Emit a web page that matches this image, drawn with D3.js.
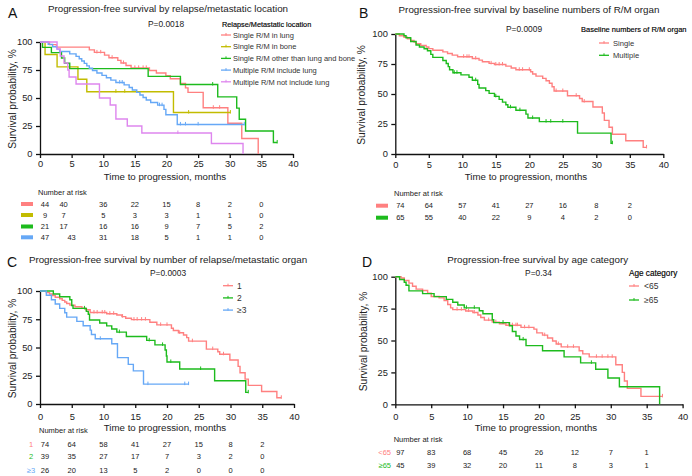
<!DOCTYPE html>
<html>
<head>
<meta charset="utf-8">
<script src="https://cdn.jsdelivr.net/npm/d3@7"></script>
<style>
  html, body { margin: 0; padding: 0; background: #fff; }
  svg { display: block; font-family: "Liberation Sans", Arial, Helvetica, sans-serif; }
</style>
</head>
<body>
<svg id="chart" width="692" height="476"></svg>
<script>
// shared axis ticks
const xTicks = [0, 5, 10, 15, 20, 25, 30, 35, 40];
const yTicks = [0, 25, 50, 75, 100];
const riskTimes = [0, 5, 10, 15, 20, 25, 30, 35];

// ---- panel A: relapse/metastatic location ----
const lungSteps = [[0,100],[1.5,97.7],[2.6,95.4],[7.8,93.0],[8.6,90.7],[10.2,88.3],[10.9,86.0],[12.3,83.6],[12.8,81.3],[13.6,79.0],[14.4,76.9],[17.3,74.6],[18.4,72.3],[19.9,70.0],[20.6,67.2],[22.2,63.0],[23.0,59.0],[23.4,55.0],[25.8,41.3],[29.7,27.5],[31.9,13.8],[34.5,0]];
const lungCensor = [9.0, 9.6, 11.4, 13.2, 15.0, 15.6, 16.3, 16.8, 27.4, 28.4];
const boneSteps = [[0,100],[0.8,88.9],[2.7,77.8],[6.0,66.7],[7.4,55.6],[21.1,37.0]];
const boneCensor = [12.0, 13.4, 23.5, 30.1];
const otherSteps = [[0,100],[0.4,95.2],[1.8,90.5],[3.4,85.7],[3.9,81.0],[4.7,76.2],[17.1,69.3],[22.2,62.0],[28.1,51.0],[31.1,41.0],[31.5,31.0],[32.5,20.5],[36.9,10.3]];
const otherCensor = [27.3, 37.5];
const inclLungSteps = [[0,100],[1.3,97.9],[2.0,95.7],[2.7,93.6],[3.1,91.5],[4.7,89.4],[5.7,87.2],[6.2,85.1],[6.6,83.0],[7.0,80.9],[7.4,78.7],[7.8,76.6],[8.3,74.5],[9.0,72.3],[9.8,70.2],[10.5,68.1],[11.2,66.0],[12.0,63.8],[13.3,61.7],[14.1,59.4],[14.6,57.2],[15.3,55.0],[15.8,52.7],[16.3,50.5],[16.8,48.2],[17.5,46.0],[18.6,43.6],[19.6,39.8],[19.9,35.0],[21.7,26.4]];
const inclLungCensor = [12.6, 13.0, 18.9, 19.3, 22.2, 23.0, 25.0, 32.3];
const notInclSteps = [[0,100],[2.7,93.75],[3.2,87.5],[3.8,81.25],[4.4,75],[4.6,68.75],[5.7,62.5],[9.4,50],[11.1,43.75],[12.0,31.25],[13.8,25],[16.1,18.75],[27.1,9.4],[32.1,0]];
const notInclCensor = [21.8];
const riskLung = [44, 40, 36, 22, 15, 8, 2, 0];
const riskBone = [9, 7, 5, 3, 3, 1, 1, 0];
const riskOther = [21, 17, 16, 16, 9, 7, 5, 2];
const riskInclLung = [47, 43, 31, 18, 5, 1, 1, 0];

// ---- panel B: baseline number of R/M organs ----
const singleSteps = [[0,100],[0.6,98.6],[1.3,97.3],[1.8,95.9],[2.3,94.6],[2.8,93.2],[3.1,91.9],[3.8,90.5],[4.6,89.2],[5.0,87.8],[5.6,86.5],[7.1,85.1],[7.8,83.8],[8.5,82.4],[9.3,81.0],[11.5,79.6],[12.5,78.2],[13.0,76.9],[14.0,75.5],[14.8,74.6],[16.5,73.2],[17.3,71.7],[18.0,70.2],[20.2,68.5],[20.5,66.7],[21.0,64.9],[22.0,63.0],[22.5,61.0],[23.0,59.0],[23.4,56.0],[23.7,52.5],[25.7,48.6],[27.5,46.2],[27.9,43.7],[29.5,39.2],[30.9,34.2],[31.2,28.0],[31.9,22.3],[32.4,16.5],[34.4,11.0],[37.0,5.5]];
const singleCensor = [10.2, 10.7, 11.0, 12.0, 14.3, 15.0, 15.5, 16.0, 18.5, 19.0, 20.0, 24.0, 25.0, 27.0, 28.2, 37.5];
const multipleSteps = [[0,100],[1.3,98.5],[1.6,96.9],[2.3,93.8],[3.1,90.8],[3.6,89.2],[4.3,87.7],[4.8,86.1],[5.3,83.0],[5.6,80.5],[7.1,77.9],[7.6,75.4],[7.9,72.8],[8.1,70.2],[8.6,67.7],[9.8,65.9],[11.0,64.0],[11.5,61.5],[12.3,58.0],[12.5,55.0],[13.5,52.8],[14.0,50.5],[14.8,48.0],[15.5,45.5],[16.0,43.2],[16.5,41.0],[16.8,38.9],[18.0,36.5],[19.5,33.2],[19.8,30.0],[21.5,27.0],[27.2,17.4],[32.2,9.0]];
const multipleCensor = [8.8, 9.2, 12.0, 15.0, 17.2, 18.6, 20.5, 22.5, 23.2, 25.0, 32.4];
const riskSingle = [74, 64, 57, 41, 27, 16, 8, 2];
const riskMultiple = [65, 55, 40, 22, 9, 4, 2, 0];

// ---- panel C: number of relapse/metastatic organs ----
const c1Steps = [[0,100],[1.0,98.6],[1.5,97.3],[2.0,95.9],[2.4,94.5],[3.1,93.1],[3.5,91.7],[3.9,90.3],[4.2,88.9],[4.7,87.5],[5.5,86.1],[6.6,84.8],[7.2,83.4],[7.9,81.0],[10.5,79.9],[12.1,78.7],[12.9,77.3],[13.5,75.9],[14.4,74.7],[17.3,72.4],[18.4,70.0],[20.7,67.0],[21.0,65.0],[21.8,63.0],[22.6,61.0],[23.1,58.7],[23.4,55.6],[26.2,48.6],[28.0,46.2],[28.3,44.0],[29.9,39.0],[31.2,33.3],[31.5,27.7],[32.3,22.0],[32.8,16.5],[34.9,11.0],[37.3,5.5]];
const c1Censor = [8.5, 9.0, 9.8, 10.2, 11.0, 11.6, 13.0, 14.8, 15.3, 16.0, 16.6, 19.0, 20.0, 22.0, 24.0, 27.2, 28.9, 38.0];
const c2Steps = [[0,100],[2.1,97.4],[3.1,94.9],[4.7,92.3],[5.0,87.2],[5.2,84.6],[7.3,82.0],[7.6,79.4],[7.8,74.3],[9.4,71.7],[10.5,69.1],[11.3,66.4],[12.1,63.6],[13.6,59.8],[16.8,56.3],[18.1,52.3],[19.7,47.8],[19.9,42.5],[20.0,37.2],[22.0,31.0],[27.5,20.6],[32.4,10.3]];
const c2Censor = [7.0, 12.5, 17.2, 19.3, 20.6, 25.3, 32.8];
const c3Steps = [[0,100],[1.0,96.2],[1.8,92.3],[2.4,88.5],[3.1,84.6],[3.9,80.8],[4.2,76.9],[5.8,73.1],[6.8,69.2],[7.9,65.4],[8.1,61.5],[8.7,57.7],[11.3,53.3],[12.2,41.0],[13.9,35.1],[14.7,29.3],[16.3,17.6]];
const c3Censor = [9.5, 17.0, 22.8, 23.4];
const riskC1 = [74, 64, 58, 41, 27, 15, 8, 2];
const riskC2 = [39, 35, 27, 17, 7, 3, 2, 0];
const riskC3 = [26, 20, 13, 5, 2, 0, 0, 0];

// ---- panel D: age category ----
const youngSteps = [[0,100],[0.8,99.0],[1.25,97.0],[1.9,95.0],[2.4,92.5],[2.9,90.3],[3.8,89.2],[4.5,87.1],[5.0,84.5],[6.1,83.4],[6.8,81.3],[7.3,78.2],[7.7,75.6],[8.0,74.2],[9.8,73.1],[10.8,72.0],[11.5,70.0],[11.9,68.0],[12.4,66.0],[13.5,64.4],[14.5,63.1],[15.4,62.0],[17.5,60.3],[19.3,58.9],[19.7,56.0],[20.5,54.2],[21.2,52.0],[21.9,49.6],[22.4,47.2],[23.1,45.0],[25.6,42.0],[26.1,39.5],[27.0,37.2],[30.7,31.0],[31.6,25.0],[31.9,18.3],[32.3,12.5],[34.2,6.2]];
const youngCensor = [8.6, 9.2, 10.2, 11.0, 13.0, 14.0, 15.8, 16.3, 16.8, 17.0, 18.0, 18.6, 20.8, 22.7, 24.0, 24.8, 28.0, 28.8, 29.6, 30.2, 37.2];
const oldSteps = [[0,100],[0.6,97.8],[1.25,95.6],[1.5,93.3],[1.9,88.9],[3.8,86.7],[5.4,84.4],[7.1,82.2],[8.0,80.0],[8.7,77.8],[9.6,75.6],[11.7,73.3],[12.2,71.0],[13.5,66.3],[13.7,64.0],[15.9,61.6],[16.3,57.0],[16.8,53.5],[17.3,50.8],[18.2,46.0],[20.5,42.0],[23.5,37.2],[25.8,32.5],[27.9,27.5],[29.6,20.6],[31.2,13.7],[36.8,0]];
const oldCensor = [9.9, 11.0, 15.0, 17.8, 27.3];
const riskYoung = [97, 83, 68, 45, 26, 12, 7, 1];
const riskOld = [45, 39, 32, 20, 11, 8, 3, 1];

const COLORS = {
  red: "#ff8080",
  yellow: "#c2bc00",
  green: "#1dbb1d",
  blue: "#66a8f6",
  violet: "#de86ee",
};

const svg = d3.select("#chart");
const FONT_TICK = 9.3;

function survivalAt(steps, t) {
  let s = steps[0][1];
  for (const [st, sv] of steps) {
    if (st <= t) s = sv;
  }
  return s;
}

function drawPanel(p) {
  const g = svg.append("g");
  const x = d3.scaleLinear().domain([0, 40]).range([p.x0, p.x1]);
  const y = d3.scaleLinear().domain([0, 100]).range([p.yBottom, p.yTop]);

  g.append("text")
    .attr("x", p.letter[0]).attr("y", p.letter[1]).attr("dy", "0.36em")
    .style("font-size", "14px").attr("fill", "#111")
    .text(p.letterText);

  g.append("text")
    .attr("x", p.title[0]).attr("y", p.title[1]).attr("dy", "0.36em")
    .attr("text-anchor", "middle").style("font-size", "9.8px").attr("fill", "#222")
    .text(p.titleText);

  g.append("text")
    .attr("x", p.pval[0]).attr("y", p.pval[1]).attr("dy", "0.36em")
    .attr("text-anchor", "middle").style("font-size", "8.4px").attr("fill", "#222")
    .text(p.pvalText);

  // axes
  const xAxis = g.append("g")
    .attr("transform", `translate(0,${p.yBottom})`)
    .call(d3.axisBottom(x).tickValues(xTicks).tickSize(4).tickSizeOuter(0).tickPadding(p.xPad));
  const yAxis = g.append("g")
    .attr("transform", `translate(${p.x0},0)`)
    .call(d3.axisLeft(y).tickValues(yTicks).tickSize(4).tickSizeOuter(0).tickPadding(3.5));
  [xAxis, yAxis].forEach((a) => {
    a.selectAll(".domain, .tick line").attr("stroke", "#111").attr("stroke-width", 1.3);
    a.selectAll("text").style("font-size", FONT_TICK + "px").attr("fill", "#222")
      .style("font-family", "inherit");
  });

  g.append("text")
    .attr("transform", `translate(${p.ylabX},${(p.yTop + p.yBottom) / 2 + 1}) rotate(-90)`)
    .attr("dy", "0.36em").attr("text-anchor", "middle")
    .style("font-size", "10.2px").attr("fill", "#222")
    .text("Survival probability, %");

  g.append("text")
    .attr("x", p.xlab[0]).attr("y", p.xlab[1]).attr("dy", "0.36em")
    .attr("text-anchor", "middle").style("font-size", "9.7px").attr("fill", "#222")
    .text("Time to progression, months");

  // curves
  const line = d3.line().x((d) => x(d[0])).y((d) => y(d[1])).curve(d3.curveStepAfter);
  p.series.forEach((s) => {
    const last = s.steps[s.steps.length - 1];
    const pts = s.end > last[0] ? s.steps.concat([[s.end, last[1]]]) : s.steps;
    g.append("path")
      .attr("d", line(pts))
      .attr("fill", "none")
      .attr("stroke", s.color)
      .attr("stroke-width", 1.4);
    g.selectAll(null)
      .data(s.censor)
      .join("line")
      .attr("x1", (t) => x(t)).attr("x2", (t) => x(t))
      .attr("y1", (t) => y(survivalAt(s.steps, t)) - 2.5)
      .attr("y2", (t) => y(survivalAt(s.steps, t)) + 1)
      .attr("stroke", s.color)
      .attr("stroke-width", 1);
  });

  // legend
  const L = p.legend;
  if (L.title) {
    g.append("text")
      .attr("x", L.titleX).attr("y", L.titleY).attr("dy", "0.36em")
      .style("font-size", L.titleSize + "px").attr("fill", "#000")
      .attr("stroke", "#000").attr("stroke-width", 0.15)
      .text(L.title);
  }
  p.series.forEach((s, i) => {
    const ly = L.y0 + i * L.dy;
    g.append("line")
      .attr("x1", L.lx).attr("x2", L.lx + 10).attr("y1", ly).attr("y2", ly)
      .attr("stroke", s.color).attr("stroke-width", 1.3);
    g.append("line")
      .attr("x1", L.lx + 5).attr("x2", L.lx + 5).attr("y1", ly - 2).attr("y2", ly + 0.5)
      .attr("stroke", s.color).attr("stroke-width", 1);
    g.append("text")
      .attr("x", L.tx).attr("y", ly).attr("dy", "0.36em")
      .style("font-size", L.size + "px").attr("fill", "#333")
      .text(s.name);
  });

  // number at risk table
  const R = p.risk;
  g.append("text")
    .attr("x", R.labelX).attr("y", R.labelY).attr("dy", "0.36em")
    .style("font-size", "7.5px").attr("fill", "#222")
    .text("Number at risk");
  p.series.forEach((s, i) => {
    if (!s.risk) return;
    const ry = R.rows[i];
    if (R.swatchX != null) {
      g.append("rect")
        .attr("x", R.swatchX).attr("y", ry - 2).attr("width", 12).attr("height", 4)
        .attr("fill", s.color);
    } else {
      g.append("text")
        .attr("x", R.rowLabelX).attr("y", ry).attr("dy", "0.36em")
        .attr("text-anchor", R.rowLabelAnchor)
        .style("font-size", "7.5px").attr("fill", s.color)
        .text(s.rowLabel);
    }
    g.selectAll(null)
      .data(s.risk.map((v, j) => ({ v, t: riskTimes[j], j })))
      .join("text")
      .attr("x", (d) => x(d.t) + (d.j === 0 ? 5 : 0) + (R.shift ? R.shift(i, d.j) : 0))
      .attr("y", ry).attr("dy", "0.36em")
      .attr("text-anchor", "middle")
      .style("font-size", "7.5px").attr("fill", "#222")
      .text((d) => d.v);
  });
}

drawPanel({
  letterText: "A", letter: [8, 13],
  titleText: "Progression-free survival by relapse/metastatic location", title: [168, 8],
  pvalText: "P=0.0018", pval: [166, 24],
  x0: 40, x1: 293, yTop: 42, yBottom: 154, xPad: 2.7,
  ylabX: 12, xlab: [165, 177],
  legend: { title: "Relapse/Metastatic location", titleX: 222, titleY: 24, titleSize: 7.3,
            y0: 35, dy: 11.7, lx: 221, tx: 233, size: 7.5 },
  risk: { labelX: 38, labelY: 192, rows: [204, 215, 226.5, 237.3], swatchX: 21,
          shift: (i, j) => (j === 1 && i < 3 ? -8 : 0) },
  series: [
    { name: "Single R/M in lung", color: COLORS.red, steps: lungSteps, censor: lungCensor, end: 34.5, risk: riskLung },
    { name: "Single R/M in bone", color: COLORS.yellow, steps: boneSteps, censor: boneCensor, end: 30.1, risk: riskBone },
    { name: "Single R/M other than lung and bone", color: COLORS.green, steps: otherSteps, censor: otherCensor, end: 37.5, risk: riskOther },
    { name: "Multiple R/M include lung", color: COLORS.blue, steps: inclLungSteps, censor: inclLungCensor, end: 32.3, risk: riskInclLung },
    { name: "Multiple R/M not include lung", color: COLORS.violet, steps: notInclSteps, censor: notInclCensor, end: 32.1 },
  ],
});

drawPanel({
  letterText: "B", letter: [359, 13],
  titleText: "Progression-free survival by baseline numbers of R/M organ", title: [529, 9.3],
  pvalText: "P=0.0009", pval: [524, 29],
  x0: 395.3, x1: 663.3, yTop: 34, yBottom: 154, xPad: 3.5,
  ylabX: 361, xlab: [526, 177],
  legend: { title: "Baseline numbers of R/M organ", titleX: 581, titleY: 29, titleSize: 7.5,
            y0: 43, dy: 12.3, lx: 599, tx: 613, size: 7.6 },
  risk: { labelX: 394, labelY: 193, rows: [205.7, 217.7], swatchX: 376 },
  series: [
    { name: "Single", color: COLORS.red, steps: singleSteps, censor: singleCensor, end: 37.5, risk: riskSingle },
    { name: "Multiple", color: COLORS.green, steps: multipleSteps, censor: multipleCensor, end: 32.4, risk: riskMultiple },
  ],
});

drawPanel({
  letterText: "C", letter: [7, 262],
  titleText: "Progression-free survival by number of relapse/metastatic organ", title: [168, 259],
  pvalText: "P=0.0003", pval: [168, 272.7],
  x0: 40, x1: 294, yTop: 291, yBottom: 404, xPad: 5,
  ylabX: 12, xlab: [165, 428],
  legend: { y0: 285.7, dy: 12.2, lx: 223, tx: 237, size: 8.5 },
  risk: { labelX: 39, labelY: 430.7, rows: [444.3, 456.7, 470], rowLabelX: 31, rowLabelAnchor: "middle" },
  series: [
    { name: "1", rowLabel: "1", color: COLORS.red, steps: c1Steps, censor: c1Censor, end: 38.0, risk: riskC1 },
    { name: "2", rowLabel: "2", color: COLORS.green, steps: c2Steps, censor: c2Censor, end: 32.8, risk: riskC2 },
    { name: "\u22653", rowLabel: "\u22653", color: COLORS.blue, steps: c3Steps, censor: c3Censor, end: 23.4, risk: riskC3 },
  ],
});

drawPanel({
  letterText: "D", letter: [362, 262],
  titleText: "Progression-free survival by age category", title: [537.7, 259],
  pvalText: "P=0.34", pval: [538.5, 272.7],
  x0: 395.3, x1: 682.6, yTop: 276.7, yBottom: 404.3, xPad: 5.5,
  ylabX: 363, xlab: [536, 428],
  legend: { title: "Age category", titleX: 629, titleY: 272.7, titleSize: 8.2,
            y0: 286, dy: 14, lx: 629, tx: 644, size: 8.5 },
  risk: { labelX: 393.7, labelY: 439, rows: [452.7, 465], rowLabelX: 391, rowLabelAnchor: "end" },
  series: [
    { name: "<65", rowLabel: "<65", color: COLORS.red, steps: youngSteps, censor: youngCensor, end: 37.2, risk: riskYoung },
    { name: "\u226565", rowLabel: "\u226565", color: COLORS.green, steps: oldSteps, censor: oldCensor, end: 36.8, risk: riskOld },
  ],
});
</script>
</body>
</html>
